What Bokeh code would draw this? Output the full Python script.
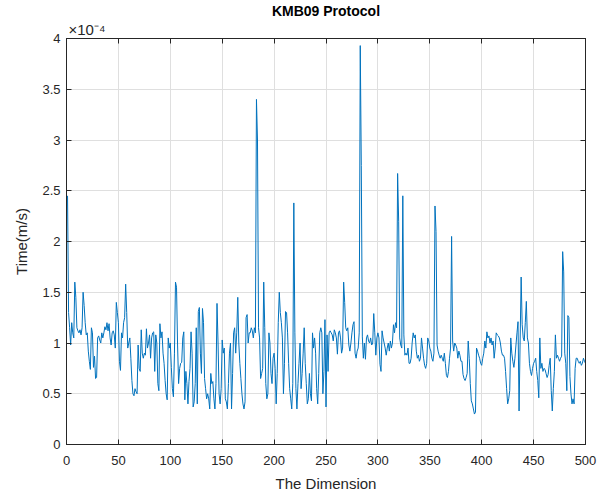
from bokeh.plotting import figure
from bokeh.models import (LinearAxis, FixedTicker, Range1d, Title, ColumnDataSource,
                          CustomJSTickFormatter)
from bokeh.embed import file_html
from bokeh.resources import INLINE

# ---------------- data (Time in units of 1e-4 m/s) ----------------
title_text = "KMB09 Protocol"
exponent_text = "×10⁻⁴"
x_label = "The Dimension"
y_label = "Time(m/s)"
x_ticks = [0, 50, 100, 150, 200, 250, 300, 350, 400, 450, 500]
y_ticks = [0, 0.5, 1, 1.5, 2, 2.5, 3, 3.5, 4]
y_tick_labels = ["0", "0.5", "1", "1.5", "2", "2.5", "3", "3.5", "4"]

t_001_050 = [2.45, 1.3, 1.15, 0.98, 1.2, 1.1, 1.05, 1.6, 1.45, 1.15,
             1.12, 1.1, 1.13, 1.08, 1.15, 1.5, 1.37, 1.2, 1.08, 1.1,
             0.92, 0.82, 0.74, 1.15, 1.1, 0.76, 0.87, 0.65, 0.66, 1.05,
             1.07, 1.03, 1.0, 1.1, 1.05, 1.1, 1.16, 1.13, 1.2, 1.12,
             1.19, 1.05, 0.98, 1.1, 1.12, 1.08, 0.95, 1.4, 1.3, 1.2]
t_051_100 = [0.82, 0.73, 1.1, 1.05, 1.2, 1.25, 1.58, 1.3, 0.95, 1.0,
             1.05, 0.85, 0.63, 0.5, 0.48, 0.55, 0.52, 0.5, 0.98, 0.75,
             0.72, 1.13, 0.9, 0.85, 0.9, 0.88, 1.14, 0.95, 1.0, 1.08,
             0.85, 1.05, 1.1, 1.11, 0.72, 1.08, 1.0, 0.6, 0.53, 1.19,
             1.05, 1.11, 0.9, 0.8, 0.63, 0.5, 0.44, 1.05, 0.95, 1.0]
t_101_150 = [0.76, 0.55, 0.47, 0.9, 1.6, 1.55, 0.98, 0.6, 0.75, 0.8,
             0.81, 1.05, 1.11, 0.44, 0.72, 0.6, 0.4, 0.62, 0.75, 1.11,
             0.9, 0.37, 0.42, 0.6, 1.15, 0.4, 1.31, 1.35, 0.9, 0.7,
             1.34, 1.2, 0.65, 0.55, 0.45, 0.5, 0.45, 0.35, 0.7, 0.6,
             0.62, 0.45, 0.35, 0.6, 1.39, 1.0, 0.5, 0.4, 0.55, 1.03]
t_151_200 = [0.9, 0.95, 0.45, 0.42, 0.35, 0.6, 0.9, 1.0, 0.35, 0.7,
             1.1, 1.15, 0.9, 1.1, 1.45, 1.0, 0.8, 0.65, 0.5, 0.4,
             0.35, 0.42, 1.25, 1.28, 1.0, 1.1, 1.1, 1.15, 1.12, 1.05,
             1.15, 1.1, 3.4, 3.0, 1.15, 1.05, 0.65, 0.7, 0.75, 1.6,
             1.15, 0.6, 0.45, 0.5, 1.1, 1.0, 0.7, 0.6, 0.85, 0.9]
t_201_250 = [0.75, 0.4, 0.7, 1.2, 1.5, 1.3, 1.2, 1.05, 0.5, 0.8,
             1.31, 1.3, 1.1, 0.8, 0.55, 0.45, 0.35, 0.6, 2.38, 1.1,
             0.55, 0.35, 0.6, 0.8, 1.0, 0.55, 0.7, 0.9, 1.15, 0.8,
             0.6, 0.4, 0.45, 0.7, 0.5, 0.43, 1.1, 0.95, 1.05, 0.9,
             0.55, 0.4, 0.7, 1.1, 1.15, 1.1, 0.5, 0.72, 1.23, 0.37]
t_251_300 = [1.08, 0.72, 1.1, 1.12, 1.1, 1.08, 1.02, 1.13, 1.1, 1.05,
             0.89, 1.1, 1.12, 1.05, 0.9, 0.95, 1.6, 1.4, 1.15, 1.12,
             1.15, 0.98, 0.92, 1.0, 1.1, 1.18, 1.21, 0.9, 0.85, 0.92,
             0.95, 1.1, 3.93, 2.75, 1.06, 0.85, 1.0, 0.84, 1.05, 1.08,
             1.02, 1.0, 1.05, 0.98, 1.0, 1.29, 1.1, 0.88, 1.05, 1.1]
t_301_350 = [1.05, 0.79, 0.72, 1.12, 1.05, 1.0, 0.95, 0.88, 0.95, 1.0,
             0.92, 1.02, 0.95, 1.0, 1.18, 1.1, 1.2, 1.15, 2.67, 2.2,
             1.05, 0.98, 0.95, 2.45, 1.08, 0.88, 0.9, 0.88, 0.95, 0.8,
             0.8, 0.85, 1.0, 1.1, 1.05, 1.08, 0.92, 0.85, 0.88, 0.82,
             0.85, 1.05, 0.95, 0.85, 0.78, 0.75, 0.8, 1.05, 1.02, 0.95]
t_351_400 = [0.92, 0.85, 0.82, 0.9, 2.35, 2.1, 0.98, 0.92, 0.88, 0.85,
             0.88, 0.85, 0.82, 0.9, 0.8, 0.68, 0.66, 0.72, 0.85, 0.95,
             2.05, 1.02, 0.92, 1.0, 0.98, 0.95, 0.85, 0.92, 0.88, 0.82,
             0.82, 0.69, 0.65, 0.63, 0.66, 0.7, 1.02, 0.85, 0.6, 0.43,
             0.4, 0.35, 0.3, 0.32, 0.95, 0.92, 0.88, 0.85, 0.8, 0.78]
t_401_450 = [0.85, 0.9, 1.02, 0.95, 1.11, 1.05, 1.07, 1.0, 1.05, 0.98,
             1.02, 0.85, 0.95, 1.1, 1.08, 1.07, 1.05, 1.0, 0.92, 0.88,
             0.88, 0.85, 0.72, 0.55, 0.4, 0.45, 0.53, 1.05, 0.9, 0.82,
             0.76, 0.85, 0.98, 1.1, 1.21, 0.33, 1.0, 1.65, 1.18, 1.05,
             1.02, 1.2, 1.41, 1.05, 1.0, 0.8, 0.72, 0.68, 0.75, 0.8]
t_451_500 = [0.82, 0.85, 0.72, 0.63, 0.46, 1.05, 0.75, 0.8, 0.72, 0.75,
             0.74, 0.7, 0.66, 0.69, 0.78, 0.85, 0.53, 0.33, 0.55, 0.72,
             1.08, 0.85, 0.88, 0.85, 0.82, 0.85, 0.87, 1.9, 1.7, 0.9,
             0.8, 0.53, 1.27, 1.25, 0.67, 0.5, 0.4, 0.45, 0.4, 0.75,
             0.85, 0.85, 0.82, 0.8, 0.82, 0.78, 0.8, 0.85, 0.82, 0.8]

times = (t_001_050 + t_051_100 + t_101_150 + t_151_200 + t_201_250 +
         t_251_300 + t_301_350 + t_351_400 + t_401_450 + t_451_500)
dims = list(range(1, len(times) + 1))

# ---------------- styling ----------------
FONT = "Liberation Sans"
TXT = "#262626"
AX = "#262626"
LINE = "#0072BD"
GRID = "#dfdfdf"

p = figure(width=608, height=494, output_backend="svg", toolbar_location=None,
           x_range=Range1d(0, 500), y_range=Range1d(0, 4),
           min_border_left=66, min_border_right=23, min_border_top=32,
           min_border_bottom=50)
p.background_fill_color = "white"
p.border_fill_color = "white"
p.outline_line_color = AX
p.outline_line_width = 1

src = ColumnDataSource(dict(x=dims, y=times))
p.line("x", "y", source=src, line_color=LINE, line_width=1)

xt = FixedTicker(ticks=x_ticks)
yt = FixedTicker(ticks=y_ticks)

for ax in p.xaxis:
    ax.ticker = xt
for ax in p.yaxis:
    ax.ticker = yt
    ax.major_label_overrides = {v: s for v, s in zip(y_ticks, y_tick_labels)}

p.xaxis.axis_label = x_label
p.yaxis.axis_label = y_label
for ax in list(p.xaxis) + list(p.yaxis):
    ax.axis_line_color = AX
    ax.major_tick_line_color = AX
    ax.major_tick_in = 5
    ax.major_tick_out = 0
    ax.minor_tick_line_color = None
    ax.major_label_text_font = FONT
    ax.major_label_text_font_size = "13px"
    ax.major_label_text_color = TXT
    ax.axis_label_text_font = FONT
    ax.axis_label_text_font_size = "15px"
    ax.axis_label_text_font_style = "normal"
    ax.axis_label_text_color = TXT
p.xaxis.major_label_standoff = 11
p.xaxis.axis_label_standoff = 7
p.yaxis.major_label_standoff = 6
p.yaxis.axis_label_standoff = 9

blank = CustomJSTickFormatter(code="return '';")
top = LinearAxis(ticker=xt, formatter=blank, major_tick_in=5, major_tick_out=0,
                 minor_tick_line_color=None, axis_line_color=AX, major_tick_line_color=AX,
                 major_label_standoff=0, major_label_text_font_size="0px")
right = LinearAxis(ticker=yt, formatter=blank, major_tick_in=5, major_tick_out=0,
                   minor_tick_line_color=None, axis_line_color=AX, major_tick_line_color=AX,
                   major_label_standoff=0, major_label_text_font_size="0px")
p.add_layout(top, "above")
p.add_layout(right, "right")

p.xgrid.ticker = xt
p.ygrid.ticker = yt
p.xgrid.grid_line_color = GRID
p.ygrid.grid_line_color = GRID

# exponent marker, as a left-aligned title row just above the frame
p.add_layout(Title(text=exponent_text, align="left", text_font=FONT,
                   text_font_size="15px", text_font_style="normal", text_color=TXT,
                   offset=2, standoff=1), "above")

p.title.text = title_text
p.title.align = "center"
p.title.text_font = FONT
p.title.text_font_size = "14px"
p.title.text_font_style = "bold"
p.title.text_color = "#000000"
p.title.offset = 0
p.title.standoff = 0

open("out.html", "w").write(file_html(p, INLINE))
